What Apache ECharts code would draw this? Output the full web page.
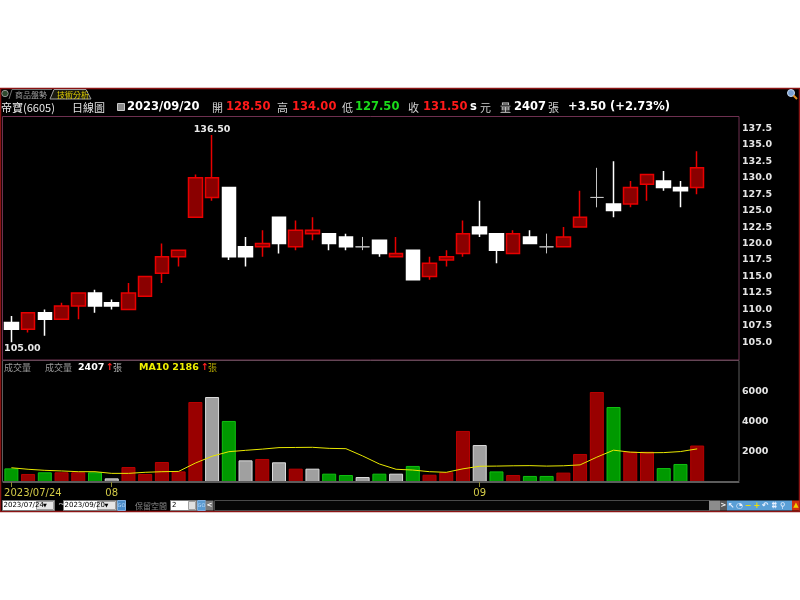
<!DOCTYPE html>
<html><head><meta charset="utf-8">
<script src="https://cdn.jsdelivr.net/npm/echarts@6/dist/echarts.min.js"></script>
<style>html,body{margin:0;padding:0;background:#fff;}#c{width:800px;height:600px;}</style>
</head><body><div id="c"></div>
<script>
// ---------------- data ----------------
const dates = ['2023/07/24','2023/07/25','2023/07/26','2023/07/27','2023/07/28','2023/07/31',
 '2023/08/01','2023/08/02','2023/08/04','2023/08/07','2023/08/08','2023/08/09','2023/08/10','2023/08/11',
 '2023/08/14','2023/08/15','2023/08/16','2023/08/17','2023/08/18','2023/08/21','2023/08/22','2023/08/23',
 '2023/08/24','2023/08/25','2023/08/28','2023/08/29','2023/08/30','2023/08/31',
 '2023/09/01','2023/09/04','2023/09/05','2023/09/06','2023/09/07','2023/09/08','2023/09/11','2023/09/12',
 '2023/09/13','2023/09/14','2023/09/15','2023/09/18','2023/09/19','2023/09/20'];
const opens  = [108,107,109.5,108.5,110.5,112.5,111,110,112,115.5,118,124,127,128.5,119.5,119.5,124,119.5,121.5,121.5,121,119.5,120.5,118,119,115,117.5,118.5,122.5,121.5,118.5,121,119.5,119.5,122.5,127,126,126,129,129.5,128.5,128.5];
const closes = [107,109.5,108.5,110.5,112.5,110.5,110.5,112.5,115,118,119,130,130,118,118,120,120,122,122,120,119.5,119.5,118.5,118.5,114.5,117,118,121.5,121.5,119,121.5,120,119.5,121,124,127,125,128.5,130.5,128.5,128,131.5];
const lows   = [105,106.5,106,108.5,108.5,109.5,110,110,112,114,116.5,124,126.5,117.5,116.5,118,118.5,119,120.5,119,119,119,118,118,114.5,114.5,116.5,118,121,117,118.5,120,118.5,119.5,122.5,125.5,124,125.5,126.5,128,125.5,127.5];
const highs  = [109,109.5,110,111,112.5,113,111.5,114,115,120,119,130.5,136.5,128.5,121,122,124,123.5,124,121.5,121.5,121,120.5,121,119,118,119,123.5,126.5,121.5,122,122,121.5,122.5,128,131.5,132.5,129.5,130.5,131,129.5,134];
const volumes = [900,530,640,640,640,640,240,990,530,1320,700,5280,5610,4030,1430,1520,1300,880,880,550,460,330,550,550,1060,480,640,3370,2440,700,460,400,400,620,1850,5940,4950,2000,2000,920,1190,2407];
const ma10 = [940,840,770,730,680,680,570,570,640,680,700,1250,1700,2000,2090,2170,2270,2280,2290,2220,2200,1720,1190,840,790,680,640,870,1040,1050,1070,1080,1050,1070,1130,1640,2100,1970,1930,1940,2010,2186];
const priceTickLabels = ['105.0','107.5','110.0','112.5','115.0','117.5','120.0','122.5','125.0','127.5','130.0','132.5','135.0','137.5'];
const volTickLabels = ['2000','4000','6000'];
const padSlots = 2;

// ---------------- build ----------------
const cats = dates.concat(new Array(padSlots).fill(''));
const labelIdx = {};
dates.forEach((d, i) => {
  if (i === 0) labelIdx[i] = d;
  else if (d.slice(5, 7) !== dates[i - 1].slice(5, 7)) labelIdx[i] = d.slice(5, 7);
});

const candleData = opens.map((o, i) => {
  const it = { value: [o, closes[i], lows[i], highs[i]] };
  if (o === closes[i]) it.itemStyle = { color: '#c4c4c4', color0: '#c4c4c4', borderColor: '#c4c4c4', borderColor0: '#c4c4c4', borderWidth: 1 };
  return it;
});
const volStyles = {
  up: { color: '#990000', borderColor: '#b80000', borderWidth: 1 },
  down: { color: '#009900', borderColor: '#10c010', borderWidth: 1 },
  flat: { color: '#a0a0a0', borderColor: '#dcdcdc', borderWidth: 1 }
};
const volData = volumes.map((v, i) => {
  const ref = i > 0 ? closes[i - 1] : opens[0];
  const k = closes[i] > ref ? 'up' : (closes[i] < ref ? 'down' : 'flat');
  return { value: v, itemStyle: volStyles[k] };
});

const CJK = '"Noto Sans CJK TC"';
const DV = '"DejaVu Sans"';
function T(x, y, text, fill, font, align) {
  return { type: 'text', x: x, y: y, z: 100,
    style: { text: text, fill: fill, font: font, textAlign: align || 'left', align: align || 'left', textVerticalAlign: 'middle', verticalAlign: 'middle' } };
}
function R(x, y, w, h, fill, stroke, lw, z) {
  return { type: 'rect', z: z === undefined ? 90 : z, shape: { x: x, y: y, width: w, height: h },
    style: { fill: fill, stroke: stroke || null, lineWidth: lw || 1 } };
}

const g = [];
// window
g.push(R(0.5, 88.5, 799, 423, '#000', '#8a1414', 1.5, -5));
// tab bar
g.push({ type: 'circle', z: 90, shape: { cx: 5, cy: 93.5, r: 3.2 }, style: { fill: '#2e4a2e', stroke: '#909090', lineWidth: 1 } });
g.push({ type: 'polyline', z: 90, shape: { points: [[9, 99], [12, 89.5], [52, 89.5]] }, style: { stroke: '#707070', lineWidth: 1, fill: null } });
g.push({ type: 'polygon', z: 90, shape: { points: [[50, 99], [54, 89.5], [86, 89.5], [91, 99]] }, style: { fill: '#1a1a10', stroke: '#a0a0a0', lineWidth: 1 } });
g.push(T(15, 94.5, '商品盤勢', '#9a9a9a', '8px ' + CJK));
g.push(T(57, 94.5, '技術分析', '#e6d400', '8px ' + CJK));
// zoom icon top right
g.push({ type: 'circle', z: 90, shape: { cx: 791, cy: 93, r: 3.5 }, style: { fill: '#7aa0d0', stroke: '#c8d8f0', lineWidth: 1 } });
g.push({ type: 'line', z: 90, shape: { x1: 793.5, y1: 95.5, x2: 797, y2: 99 }, style: { stroke: '#e09020', lineWidth: 2 } });
// header
const HY = 107.5;
const NB = 'bold 11.5px ' + DV;
const CF = '11px ' + CJK;
g.push(T(1, HY, '帝寶(6605)', '#e8e8e8', CF));
g.push(T(72, HY, '日線圖', '#e0e0e0', CF));
g.push(R(117.5, 103.5, 7, 7, '#8a8a8a', '#c8c8c8', 1));
g.push(T(127, HY, '2023/09/20', '#ffffff', NB));
g.push(T(212, HY, '開', '#d0d0d0', CF));
g.push(T(226, HY, opens[opens.length - 1].toFixed(2), '#ff1a1a', NB));
g.push(T(277, HY, '高', '#d0d0d0', CF));
g.push(T(292, HY, highs[highs.length - 1].toFixed(2), '#ff1a1a', NB));
g.push(T(342, HY, '低', '#d0d0d0', CF));
g.push(T(355, HY, lows[lows.length - 1].toFixed(2), '#1adc1a', NB));
g.push(T(408, HY, '收', '#d0d0d0', CF));
g.push(T(423, HY, closes[closes.length - 1].toFixed(2), '#ff1a1a', NB));
g.push(T(470, HY, 's', '#ffffff', NB));
g.push(T(480, HY, '元', '#d0d0d0', CF));
g.push(T(500, HY, '量', '#d0d0d0', CF));
g.push(T(514, HY, String(volumes[volumes.length - 1]), '#ffffff', NB));
g.push(T(548, HY, '張', '#d0d0d0', CF));
const chg = closes[closes.length - 1] - closes[closes.length - 2];
g.push(T(568, HY, '+' + chg.toFixed(2) + ' (+' + (chg / closes[closes.length - 2] * 100).toFixed(2) + '%)', '#ffffff', NB));
// panels
g.push(R(2.5, 360.5, 736.5, 121, null, '#5c5c5c', 1));
g.push(R(2.5, 116.5, 736.5, 243.5, null, '#6e3050', 1));
// volume header
const VY = 367.5;
g.push(T(4, VY, '成交量', '#9a9a9a', '9px ' + CJK));
g.push(T(45, VY, '成交量', '#9a9a9a', '9px ' + CJK));
g.push(T(78, VY, String(volumes[volumes.length - 1]), '#ffffff', 'bold 9.5px ' + DV));
g.push(T(106, VY, '↑', '#ff2020', 'bold 9.5px ' + DV));
g.push(T(113, VY, '張', '#b0b0b0', '9px ' + CJK));
g.push(T(139, VY, 'MA10 ' + ma10[ma10.length - 1], '#f0f000', 'bold 9.5px ' + DV));
g.push(T(201, VY, '↑', '#ff2020', 'bold 9.5px ' + DV));
g.push(T(208, VY, '張', '#b0a400', '9px ' + CJK));
// bottom toolbar
const BY = 505.5;
g.push(R(2.5, 500.5, 52, 10, '#ffffff', '#7a7a7a', 1));
g.push(R(36.5, 501.5, 17, 8, '#e6e6e6', '#a0a0a0', 1));
g.push(T(3.5, BY, dates[0], '#000', '7px ' + DV));
g.push(T(45, BY, '▼', '#000', '5px ' + DV, 'center'));
g.push(T(58, BY - 1, '~', '#c0c0c0', '9px ' + DV));
g.push(R(63.5, 500.5, 53, 10, '#ffffff', '#7a7a7a', 1));
g.push(R(97.5, 501.5, 18, 8, '#e6e6e6', '#a0a0a0', 1));
g.push(T(64.5, BY, dates[dates.length - 1], '#000', '7px ' + DV));
g.push(T(106.5, BY, '▼', '#000', '5px ' + DV, 'center'));
g.push(R(117.5, 500.5, 8, 10, '#4a8cc8', '#80b0e0', 1));
g.push(T(121.5, BY, 'GO', '#b8d8f8', '5px ' + DV, 'center'));
g.push(T(135, BY, '保留空間', '#8a8a8a', '8px ' + CJK));
g.push(R(170.5, 500.5, 26, 10, '#ffffff', '#7a7a7a', 1));
g.push(T(172, BY, '2', '#000', '7px ' + DV));
g.push(R(188.5, 501.5, 7, 8, '#e0e0e0', '#a0a0a0', 1));
g.push(R(197.5, 500.5, 8, 10, '#5a9ad0', '#80b0e0', 1));
g.push(T(201.5, BY, 'GO', '#b8d8f8', '5px ' + DV, 'center'));
g.push(R(205.5, 500.5, 8, 10, '#7a7a7a', null, 1));
g.push(T(209.5, BY, '<', '#ffffff', 'bold 7px ' + DV, 'center'));
g.push(R(214.5, 500.5, 495, 10, '#060606', '#4a4a4a', 1));
g.push(R(709, 500.5, 11, 10, '#8c8c8c', null, 1));
g.push(R(720, 500.5, 7, 10, '#5a5a5a', null, 1));
g.push(T(723.5, BY, '>', '#ffffff', 'bold 7px ' + DV, 'center'));
g.push(R(727, 500.5, 65, 10, '#5a9fd6', null, 1));
const icons = ['↖', '◔', '−', '+', '↶', '⌗', '⚲'];
icons.forEach((s, i) => {
  g.push(T(731 + i * 8.6, BY, s, (s === '−' || s === '+') ? '#f0e000' : '#e8f0ff', 'bold 8px ' + DV, 'center'));
});
g.push(R(792, 500.5, 7.5, 10, '#d03010', null, 1));
g.push(T(796, BY, '▲', '#f0d000', '7px ' + DV, 'center'));

const axLbl = { color: '#e6e6e6', fontWeight: 'bold', fontSize: 9.5, fontFamily: 'DejaVu Sans', margin: 3, showMinLabel: false, showMaxLabel: false };

const option = {
  backgroundColor: '#ffffff',
  animation: false,
  graphic: { elements: g },
  grid: [
    { left: 3, width: 736, top: 111.84, height: 246.94 },
    { left: 3, width: 736, top: 360.8, height: 121.2 }
  ],
  xAxis: [
    { type: 'category', gridIndex: 0, data: cats, boundaryGap: true,
      axisLine: { show: false }, axisTick: { show: false }, axisLabel: { show: false }, splitLine: { show: false } },
    { type: 'category', gridIndex: 1, data: cats, boundaryGap: true,
      axisLine: { show: true, lineStyle: { color: '#5c5c5c', width: 1 } },
      axisTick: { show: true, alignWithLabel: true, length: 5, interval: (i) => labelIdx[i] !== undefined, lineStyle: { color: '#8c8a30' } },
      axisLabel: { show: true, interval: (i) => labelIdx[i] !== undefined, margin: 6,
        color: '#d4cc48', fontSize: 10, fontFamily: 'DejaVu Sans',
        formatter: (v, i) => i === 0 ? '{f|' + labelIdx[i] + '}' : (labelIdx[i] || ''),
        rich: { f: { color: '#d4cc48', fontSize: 10, fontFamily: 'DejaVu Sans', padding: [0, 0, 0, 43] } } },
      splitLine: { show: false } }
  ],
  yAxis: [
    { type: 'value', gridIndex: 0, position: 'right', min: 102.5, max: 140, interval: 2.5, scale: true,
      axisLine: { show: false }, axisTick: { show: false }, splitLine: { show: false },
      axisLabel: Object.assign({}, axLbl, { formatter: (v) => { const s = v.toFixed(1); return priceTickLabels.includes(s) ? s : ''; } }) },
    { type: 'value', gridIndex: 1, position: 'right', min: 0, max: 8000, interval: 2000,
      axisLine: { show: false }, axisTick: { show: false }, splitLine: { show: false },
      axisLabel: Object.assign({}, axLbl, { formatter: (v) => volTickLabels.includes(String(v)) ? String(v) : '' }) }
  ],
  series: [
    { type: 'candlestick', xAxisIndex: 0, yAxisIndex: 0, data: candleData, barWidth: 14, z: 3,
      itemStyle: { color: '#8a0000', color0: '#ffffff', borderColor: '#e80000', borderColor0: '#ffffff', borderWidth: 1.5 },
      markPoint: {
        symbol: 'circle', symbolSize: 1, itemStyle: { color: 'rgba(0,0,0,0)' },
        label: { show: true, color: '#e8e8e8', fontWeight: 'bold', fontSize: 9.5, fontFamily: 'DejaVu Sans', formatter: (p) => Number(p.value).toFixed(2) },
        data: [
          { type: 'max', valueDim: 'highest', label: { offset: [0, -5] } },
          { type: 'min', valueDim: 'lowest', label: { offset: [11, 6] } }
        ]
      } },
    { type: 'bar', xAxisIndex: 1, yAxisIndex: 1, data: volData, barWidth: 14, z: 2 },
    { type: 'line', xAxisIndex: 1, yAxisIndex: 1, data: ma10, symbol: 'none', z: 4,
      lineStyle: { color: '#e8e800', width: 1 } }
  ]
};
const chart = echarts.init(document.getElementById('c'), null, { renderer: 'canvas' });
chart.setOption(option);
</script>
</body></html>
